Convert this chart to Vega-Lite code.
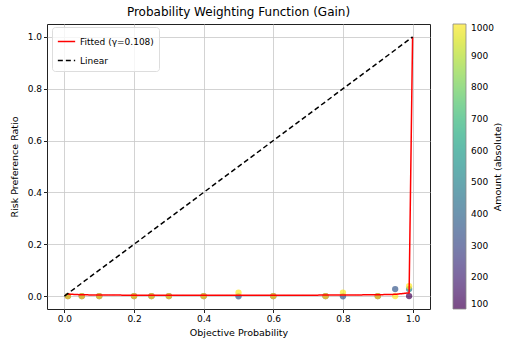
{
  "$schema": "https://vega.github.io/schema/vega-lite/v6.json",
  "autosize": {"type": "none"},
  "width": 383,
  "height": 285,
  "padding": {"left": 47, "top": 24, "right": 75, "bottom": 29},
  "title": {"text": "Probability Weighting Function (Gain)", "fontSize": 12, "fontWeight": "normal", "font": "DejaVu Sans", "color": "#000", "offset": 5},
  "config": {
    "font": "DejaVu Sans",
    "view": {"stroke": "#222", "strokeWidth": 1},
    "axis": {"labelFontSize": 9, "titleFontSize": 9.5, "titleFontWeight": "normal", "labelColor": "#000", "titleColor": "#000", "gridColor": "#c8c8c8", "gridWidth": 0.8, "tickColor": "#222", "tickSize": 3.5, "domain": false, "labelPadding": 2}
  },
  "datasets": {
    "obs": [
      {"p": 0.01, "ratio": 0.0, "amount": 100}, {"p": 0.01, "ratio": 0.0, "amount": 1000},
      {"p": 0.05, "ratio": 0.0, "amount": 100}, {"p": 0.05, "ratio": 0.0, "amount": 1000},
      {"p": 0.1, "ratio": 0.0, "amount": 100}, {"p": 0.1, "ratio": 0.0, "amount": 1000},
      {"p": 0.2, "ratio": 0.0, "amount": 100}, {"p": 0.2, "ratio": 0.0, "amount": 1000},
      {"p": 0.25, "ratio": 0.0, "amount": 100}, {"p": 0.25, "ratio": 0.0, "amount": 1000},
      {"p": 0.3, "ratio": 0.0, "amount": 100}, {"p": 0.3, "ratio": 0.0, "amount": 1000},
      {"p": 0.4, "ratio": 0.0, "amount": 100}, {"p": 0.4, "ratio": 0.0, "amount": 1000},
      {"p": 0.5, "ratio": -0.001, "amount": 350}, {"p": 0.5, "ratio": 0.013, "amount": 1000},
      {"p": 0.6, "ratio": 0.0, "amount": 100}, {"p": 0.6, "ratio": 0.0, "amount": 1000},
      {"p": 0.75, "ratio": 0.0, "amount": 100}, {"p": 0.75, "ratio": 0.0, "amount": 1000},
      {"p": 0.8, "ratio": -0.001, "amount": 350}, {"p": 0.8, "ratio": 0.013, "amount": 1000},
      {"p": 0.9, "ratio": 0.0, "amount": 100}, {"p": 0.9, "ratio": 0.0, "amount": 1000},
      {"p": 0.95, "ratio": 0.027, "amount": 350}, {"p": 0.95, "ratio": 0.0, "amount": 1000},
      {"p": 0.99, "ratio": 0.0, "amount": 100}, {"p": 0.99, "ratio": 0.027, "amount": 500}, {"p": 0.99, "ratio": 0.038, "amount": 1000}
    ],
    "curves": [
      {"p": 0.01, "w": 0.0075, "series": "Fitted (γ=0.108)", "o": 1},
      {"p": 0.05, "w": 0.0048, "series": "Fitted (γ=0.108)", "o": 2},
      {"p": 0.1, "w": 0.004, "series": "Fitted (γ=0.108)", "o": 3},
      {"p": 0.2, "w": 0.0033, "series": "Fitted (γ=0.108)", "o": 4},
      {"p": 0.3, "w": 0.0031, "series": "Fitted (γ=0.108)", "o": 5},
      {"p": 0.4, "w": 0.003, "series": "Fitted (γ=0.108)", "o": 6},
      {"p": 0.5, "w": 0.003, "series": "Fitted (γ=0.108)", "o": 7},
      {"p": 0.6, "w": 0.0032, "series": "Fitted (γ=0.108)", "o": 8},
      {"p": 0.7, "w": 0.0034, "series": "Fitted (γ=0.108)", "o": 9},
      {"p": 0.8, "w": 0.0039, "series": "Fitted (γ=0.108)", "o": 10},
      {"p": 0.9, "w": 0.005, "series": "Fitted (γ=0.108)", "o": 11},
      {"p": 0.95, "w": 0.0066, "series": "Fitted (γ=0.108)", "o": 12},
      {"p": 0.99, "w": 0.0123, "series": "Fitted (γ=0.108)", "o": 13},
      {"p": 1.0, "w": 1.0, "series": "Fitted (γ=0.108)", "o": 14},
      {"p": 0.0, "w": 0.0, "series": "Linear", "o": 1},
      {"p": 1.0, "w": 1.0, "series": "Linear", "o": 2}
    ]
  },
  "layer": [
    {
      "data": {"name": "obs"},
      "mark": {"type": "point", "filled": true, "size": 40, "opacity": 0.7, "shape": "circle"},
      "encoding": {
        "x": {"field": "p", "type": "quantitative", "scale": {"domain": [-0.05, 1.05], "nice": false, "zero": false},
              "axis": {"title": "Objective Probability", "values": [0, 0.2, 0.4, 0.6, 0.8, 1.0], "format": ".1f", "titlePadding": 4}},
        "y": {"field": "ratio", "type": "quantitative", "scale": {"domain": [-0.05, 1.05], "nice": false, "zero": false},
              "axis": {"title": "Risk Preference Ratio", "values": [0, 0.2, 0.4, 0.6, 0.8, 1.0], "format": ".1f", "titlePadding": 8}},
        "fill": {"field": "amount", "type": "quantitative", "scale": {"scheme": "viridis", "domain": [100, 1000]},
                 "legend": {"title": "Amount (absolute)", "orient": "none", "legendX": 406, "legendY": 0, "direction": "vertical",
                            "gradientLength": 285, "gradientThickness": 13, "gradientOpacity": 0.7, "gradientStrokeColor": "#555", "gradientStrokeWidth": 0.8,
                            "values": [100, 200, 300, 400, 500, 600, 700, 800, 900, 1000], "format": "d", "labelFontSize": 9, "labelColor": "#000", "labelOffset": 5,
                            "titleOrient": "right", "titleFontSize": 9.5, "titleFontWeight": "normal", "titleColor": "#000", "titleAnchor": "middle", "titleBaseline": "middle", "titlePadding": 4,
                            "encode": {"title": {"update": {"angle": {"value": 270}}}}}}
      }
    },
    {
      "data": {"name": "curves"},
      "mark": {"type": "line", "strokeWidth": 1.5},
      "encoding": {
        "x": {"field": "p", "type": "quantitative"},
        "y": {"field": "w", "type": "quantitative"},
        "order": {"field": "o", "type": "quantitative"},
        "stroke": {"field": "series", "type": "nominal", "scale": {"domain": ["Fitted (γ=0.108)", "Linear"], "range": ["#ff0000", "#000000"]},
                   "legend": {"title": null, "orient": "none", "legendX": 5, "legendY": 3, "fillColor": "rgba(255,255,255,0.8)", "strokeColor": "#ddd", "padding": 5, "cornerRadius": 3,
                              "labelFontSize": 9, "labelColor": "#000", "symbolType": "stroke", "symbolSize": 300, "symbolStrokeWidth": 1.5, "rowPadding": 4}},
        "strokeDash": {"field": "series", "type": "nominal", "scale": {"domain": ["Fitted (γ=0.108)", "Linear"], "range": [[1, 0], [5, 3]]},
                       "legend": {"title": null, "orient": "none", "legendX": 5, "legendY": 3, "fillColor": "rgba(255,255,255,0.8)", "strokeColor": "#ddd", "padding": 5, "cornerRadius": 3,
                                  "labelFontSize": 9, "labelColor": "#000", "symbolType": "stroke", "symbolSize": 300, "symbolStrokeWidth": 1.5, "rowPadding": 4}}
      }
    }
  ]
}
